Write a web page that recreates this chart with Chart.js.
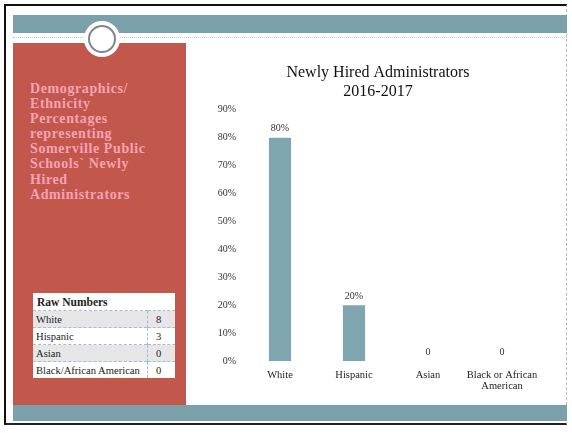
<!DOCTYPE html>
<html>
<head>
<meta charset="utf-8">
<script src="https://cdn.jsdelivr.net/npm/chart.js@4/dist/chart.umd.min.js"></script>
<style>
  html, body { margin: 0; padding: 0; background: #fff; }
  body { width: 572px; height: 433px; position: relative; overflow: hidden; font-family: "Liberation Serif", "DejaVu Serif", serif; }
  .frame { position: absolute; left: 4px; top: 4px; width: 563px; height: 421px;
           border-top: 2px solid #111; border-left: 2px solid #111; border-bottom: 2px solid #222;
           border-right: 1px dashed #bbb; box-sizing: border-box; }
  .banner { position: absolute; left: 13px; top: 15px; width: 554px; height: 18px; background: #7aa1a9; }
  .rule { position: absolute; left: 13px; top: 37px; width: 554px; border-top: 1px dotted #c9c9c9; }
  .side { position: absolute; left: 13px; top: 43px; width: 173px; height: 362px; background: #c1584b; }
  .foot { position: absolute; left: 13px; top: 405px; width: 554px; height: 16px; background: #7aa1a9; }
  .ring { position: absolute; left: 84px; top: 21px; width: 36px; height: 36px; border-radius: 50%; background: #fff; }
  .ring::after { content: ""; position: absolute; left: 4px; top: 4px; width: 24px; height: 24px; border-radius: 50%;
                 border: 2px double #80878b; }
  .heading { position: absolute; left: 30px; top: 81px; width: 156px; color: #f6a2b6; font-weight: bold;
             font-family: "Liberation Serif", serif; font-size: 14px; line-height: 15.1px; letter-spacing: 0.6px; }
  table.raw { position: absolute; left: 33px; top: 293px; width: 142px; border-collapse: collapse; background: #fff;
              font-size: 10.6px; color: #222; }
  table.raw td { height: 16px; padding: 0 0 0 3px; border-top: 1px dashed #a9bccb; white-space: nowrap; }
  table.raw td.n { width: 19px; border-left: 1px dashed #a9bccb; padding-left: 8px; }
  table.raw tr.alt td { background: #e6e6e8; }
  table.raw th { text-align: left; font-size: 11.5px; height: 17px; padding: 0 0 0 4px; }
  #box { position: absolute; left: 217px; top: 55px; width: 330px; height: 340px; }
</style>
</head>
<body>
<div class="frame"></div>
<div class="banner"></div>
<div class="rule"></div>
<div class="side"></div>
<div class="foot"></div>
<div class="ring"></div>
<div class="heading">Demographics/<br>Ethnicity<br>Percentages<br>representing<br>Somerville Public<br>Schools` Newly<br>Hired<br>Administrators</div>
<table class="raw" id="raw"></table>
<div id="box"><canvas id="c" width="330" height="340"></canvas></div>
<script>
// Categories and values for the bar chart
const categories = ["White", "Hispanic", "Asian", ["Black or African", "American"]];
const percentValues = [80, 20, 0, 0];
const tickLabels = ["0%", "10%", "20%", "30%", "40%", "50%", "60%", "70%", "80%", "90%"];

// Raw head counts for the side table
const rawLabels = ["White", "Hispanic", "Asian", "Black/African American"];
const rawCounts = [8, 3, 0, 0];

// Build the raw numbers table
const tbl = document.getElementById("raw");
let html = '<tr><th colspan="2">Raw Numbers</th></tr>';
rawLabels.forEach((name, i) => {
  html += '<tr class="' + (i % 2 === 0 ? 'alt' : '') + '"><td>' + name + '</td><td class="n">' + rawCounts[i] + '</td></tr>';
});
tbl.innerHTML = html;

const serif = "'Liberation Serif', 'DejaVu Serif', serif";

// Value labels above each bar
const valueLabels = {
  id: "valueLabels",
  afterDatasetsDraw(chart) {
    const ctx = chart.ctx;
    const meta = chart.getDatasetMeta(0);
    ctx.save();
    ctx.font = "10px " + serif;
    ctx.fillStyle = "#333";
    ctx.textAlign = "center";
    ctx.textBaseline = "bottom";
    meta.data.forEach((bar, i) => {
      const v = percentValues[i];
      const text = v > 0 ? v + "%" : "0";
      ctx.fillText(text, bar.x, bar.y - 4);
    });
    ctx.restore();
  }
};

new Chart(document.getElementById("c"), {
  type: "bar",
  data: {
    labels: categories,
    datasets: [{
      data: percentValues,
      backgroundColor: "#7fa5ae",
      categoryPercentage: 1,
      barPercentage: 0.3
    }]
  },
  options: {
    responsive: false,
    animation: false,
    layout: { padding: { right: 8, left: 0, top: 0, bottom: 0 } },
    plugins: {
      legend: { display: false },
      tooltip: { enabled: false },
      title: {
        display: true,
        text: ["Newly Hired Administrators", "2016-2017"],
        color: "#111",
        font: { family: serif, size: 16, weight: "normal", lineHeight: 1.15 },
        padding: { top: 9, bottom: 9 }
      }
    },
    scales: {
      x: {
        grid: { display: false, drawTicks: false },
        border: { display: false },
        ticks: { color: "#222", font: { family: serif, size: 10.5, lineHeight: 1.1 }, padding: 8, maxRotation: 0, autoSkip: false },
        afterFit(scale) { scale.height = 34; }
      },
      y: {
        min: 0, max: 90,
        grid: { display: false, drawTicks: false },
        border: { display: false },
        ticks: {
          stepSize: 10,
          color: "#333",
          font: { family: serif, size: 10 },
          padding: 7,
          callback: (v) => tickLabels[Math.round(v / 10)]
        },
        afterFit(scale) { scale.width = 26; }
      }
    }
  },
  plugins: [valueLabels]
});
</script>
</body>
</html>
